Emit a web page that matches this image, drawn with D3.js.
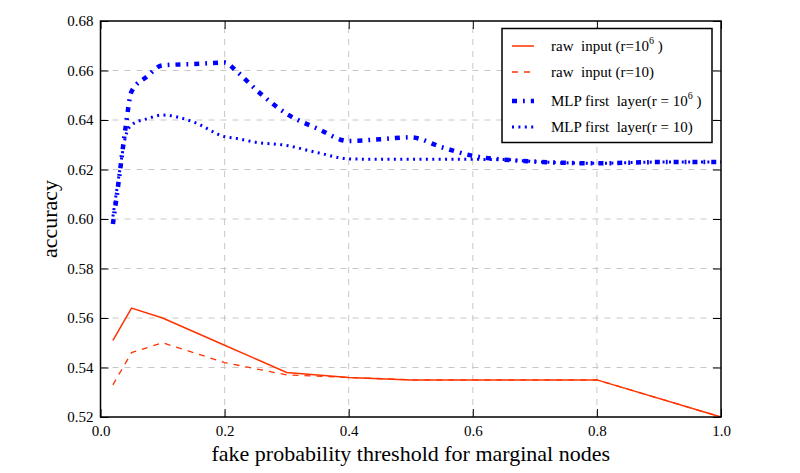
<!DOCTYPE html>
<html>
<head>
<meta charset="utf-8">
<script src="https://cdn.jsdelivr.net/npm/d3@7"></script>
<style>
  body { margin: 0; background: #fff; }
  text { font-family: "Liberation Serif", "DejaVu Serif", serif; fill: #000; }
</style>
</head>
<body>
<div id="chart"></div>
<script>
// Datos
const xRaw = [0.02, 0.05, 0.1, 0.2, 0.3, 0.4, 0.5, 0.6, 0.7, 0.8, 1.0];
const rawR1e6 = [0.551, 0.564, 0.560, 0.549, 0.538, 0.536, 0.535, 0.535, 0.535, 0.535, 0.520];
const rawR10 = [0.533, 0.546, 0.550, 0.542, 0.537, 0.536, 0.535, 0.535, 0.535, 0.535, 0.520];

const xMlp = [0.02, 0.03, 0.04, 0.05, 0.075, 0.1, 0.15, 0.2, 0.22, 0.25, 0.3, 0.35, 0.4, 0.45, 0.5, 0.55, 0.6, 0.65, 0.7, 0.8, 0.9, 1.0];
const mlpR1e6 = [0.598, 0.6165, 0.6362, 0.6515, 0.6576, 0.6621, 0.6626, 0.6632, 0.6595, 0.6524, 0.6425, 0.6365, 0.6315, 0.6322, 0.6330, 0.6290, 0.6255, 0.6240, 0.6232, 0.6225, 0.6230, 0.6230];
const mlpR10 = [0.601, 0.618, 0.633, 0.638, 0.6405, 0.642, 0.6392, 0.6333, 0.6325, 0.6310, 0.6297, 0.6268, 0.6243, 0.6241, 0.6241, 0.6241, 0.6241, 0.6240, 0.6232, 0.6225, 0.6230, 0.6230];

const xTicks = [0.0, 0.2, 0.4, 0.6, 0.8, 1.0];
const yTicks = [0.52, 0.54, 0.56, 0.58, 0.60, 0.62, 0.64, 0.66, 0.68];

const rojo = "#ff3300";
const azul = "#0000ff";

const ancho = 800, alto = 473;
const margen = { top: 21, right: 79, bottom: 56, left: 100.5 };

const svg = d3.select("#chart").append("svg")
  .attr("width", ancho)
  .attr("height", alto);

const x = d3.scaleLinear().domain([0, 1]).range([margen.left, ancho - margen.right]);
const y = d3.scaleLinear().domain([0.52, 0.68]).range([alto - margen.bottom, margen.top]);

// Rejilla discontinua
const rejilla = svg.append("g");
rejilla.selectAll(".gx").data(xTicks.slice(1, -1)).enter().append("line")
  .attr("x1", d => x(d)).attr("x2", d => x(d))
  .attr("y1", y(0.52)).attr("y2", y(0.68))
  .attr("stroke", "#c8c8c8").attr("stroke-width", 1).attr("stroke-dasharray", "6,6");
rejilla.selectAll(".gy").data(yTicks.slice(1, -1)).enter().append("line")
  .attr("x1", x(0)).attr("x2", x(1))
  .attr("y1", d => y(d)).attr("y2", d => y(d))
  .attr("stroke", "#c8c8c8").attr("stroke-width", 1).attr("stroke-dasharray", "6,6");

// Ejes (ticks hacia dentro, en los cuatro lados)
const fmt = d3.format(".2f");
const ejeX = svg.append("g")
  .attr("transform", `translate(0,${y(0.52)})`)
  .call(d3.axisBottom(x).tickValues(xTicks).tickFormat(d3.format(".1f")).tickSizeInner(-8).tickSizeOuter(0).tickPadding(8));
const ejeY = svg.append("g")
  .attr("transform", `translate(${x(0)},0)`)
  .call(d3.axisLeft(y).tickValues(yTicks).tickFormat(fmt).tickSizeInner(-8).tickSizeOuter(0).tickPadding(7));
svg.append("g")
  .attr("transform", `translate(0,${y(0.68)})`)
  .call(d3.axisTop(x).tickValues(xTicks).tickFormat("").tickSizeInner(-8).tickSizeOuter(0));
svg.append("g")
  .attr("transform", `translate(${x(1)},0)`)
  .call(d3.axisRight(y).tickValues(yTicks).tickFormat("").tickSizeInner(-8).tickSizeOuter(0));

svg.selectAll(".domain").remove();
svg.selectAll(".tick line").attr("stroke", "#000").attr("stroke-width", 1);
[ejeX, ejeY].forEach(e => e.selectAll("text")
  .style("font-family", '"Liberation Serif", serif')
  .style("font-size", "15px"));

// Lineas
const lineaRaw = d3.line().x(d => x(d[0])).y(d => y(d[1]));
const lineaMlp = d3.line().x(d => x(d[0])).y(d => y(d[1])).curve(d3.curveMonotoneX);

const series = [
  { xs: xMlp, ys: mlpR10, color: azul, ancho: 3, dash: "2,4.4", gen: lineaMlp },
  { xs: xMlp, ys: mlpR1e6, color: azul, ancho: 4.5, dash: "5,6,1.8,6", gen: lineaMlp },
  { xs: xRaw, ys: rawR10, color: rojo, ancho: 1.3, dash: "6,6", gen: lineaRaw },
  { xs: xRaw, ys: rawR1e6, color: rojo, ancho: 1.5, dash: null, gen: lineaRaw }
];

svg.append("g").selectAll("path").data(series).enter().append("path")
  .attr("fill", "none")
  .attr("stroke", d => d.color)
  .attr("stroke-width", d => d.ancho)
  .attr("stroke-dasharray", d => d.dash)
  .attr("d", d => d.gen(d.xs.map((v, i) => [v, d.ys[i]])));

// Marco del area
svg.append("rect")
  .attr("x", x(0)).attr("y", y(0.68))
  .attr("width", x(1) - x(0)).attr("height", y(0.52) - y(0.68))
  .attr("fill", "none").attr("stroke", "#000").attr("stroke-width", 1.5);

// Titulos de ejes
svg.append("text")
  .attr("x", (x(0) + x(1)) / 2)
  .attr("y", 461)
  .attr("text-anchor", "middle")
  .style("font-size", "22px")
  .text("fake probability threshold for marginal nodes");

svg.append("text")
  .attr("transform", `translate(57,${(y(0.52) + y(0.68)) / 2}) rotate(-90)`)
  .attr("text-anchor", "middle")
  .style("font-size", "22px")
  .text("accuracy");

// Leyenda
const leyendaItems = [
  { base: "raw  input (r=10", sup: "6", fin: " )", color: rojo, ancho: 1.5, dash: null },
  { base: "raw  input (r=10)", sup: null, fin: "", color: rojo, ancho: 1.3, dash: "6,6" },
  { base: "MLP first  layer(r = 10", sup: "6", fin: " )", color: azul, ancho: 4.5, dash: "5,6,1.8,6" },
  { base: "MLP first  layer(r = 10)", sup: null, fin: "", color: azul, ancho: 3, dash: "2,4.4" }
];
const filasY = [46, 72, 101, 127];

svg.append("rect")
  .attr("x", 502).attr("y", 28.5)
  .attr("width", 210).attr("height", 114)
  .attr("fill", "#fff").attr("stroke", "#000").attr("stroke-width", 1.5);

const leyenda = svg.selectAll(".leyenda").data(leyendaItems).enter().append("g")
  .attr("class", "leyenda")
  .attr("transform", (d, i) => `translate(512,${filasY[i]})`);

leyenda.append("line")
  .attr("x1", 0).attr("x2", 22)
  .attr("stroke", d => d.color)
  .attr("stroke-width", d => d.ancho)
  .attr("stroke-dasharray", d => d.dash);

const etiquetas = leyenda.append("text")
  .attr("x", 39).attr("y", 5)
  .style("font-size", "15px")
  .style("white-space", "pre");
etiquetas.append("tspan").text(d => d.base);
etiquetas.filter(d => d.sup).append("tspan")
  .attr("dy", -7).style("font-size", "10px").text(d => d.sup);
etiquetas.filter(d => d.sup).append("tspan")
  .attr("dy", 7).text(d => d.fin);
</script>
</body>
</html>
